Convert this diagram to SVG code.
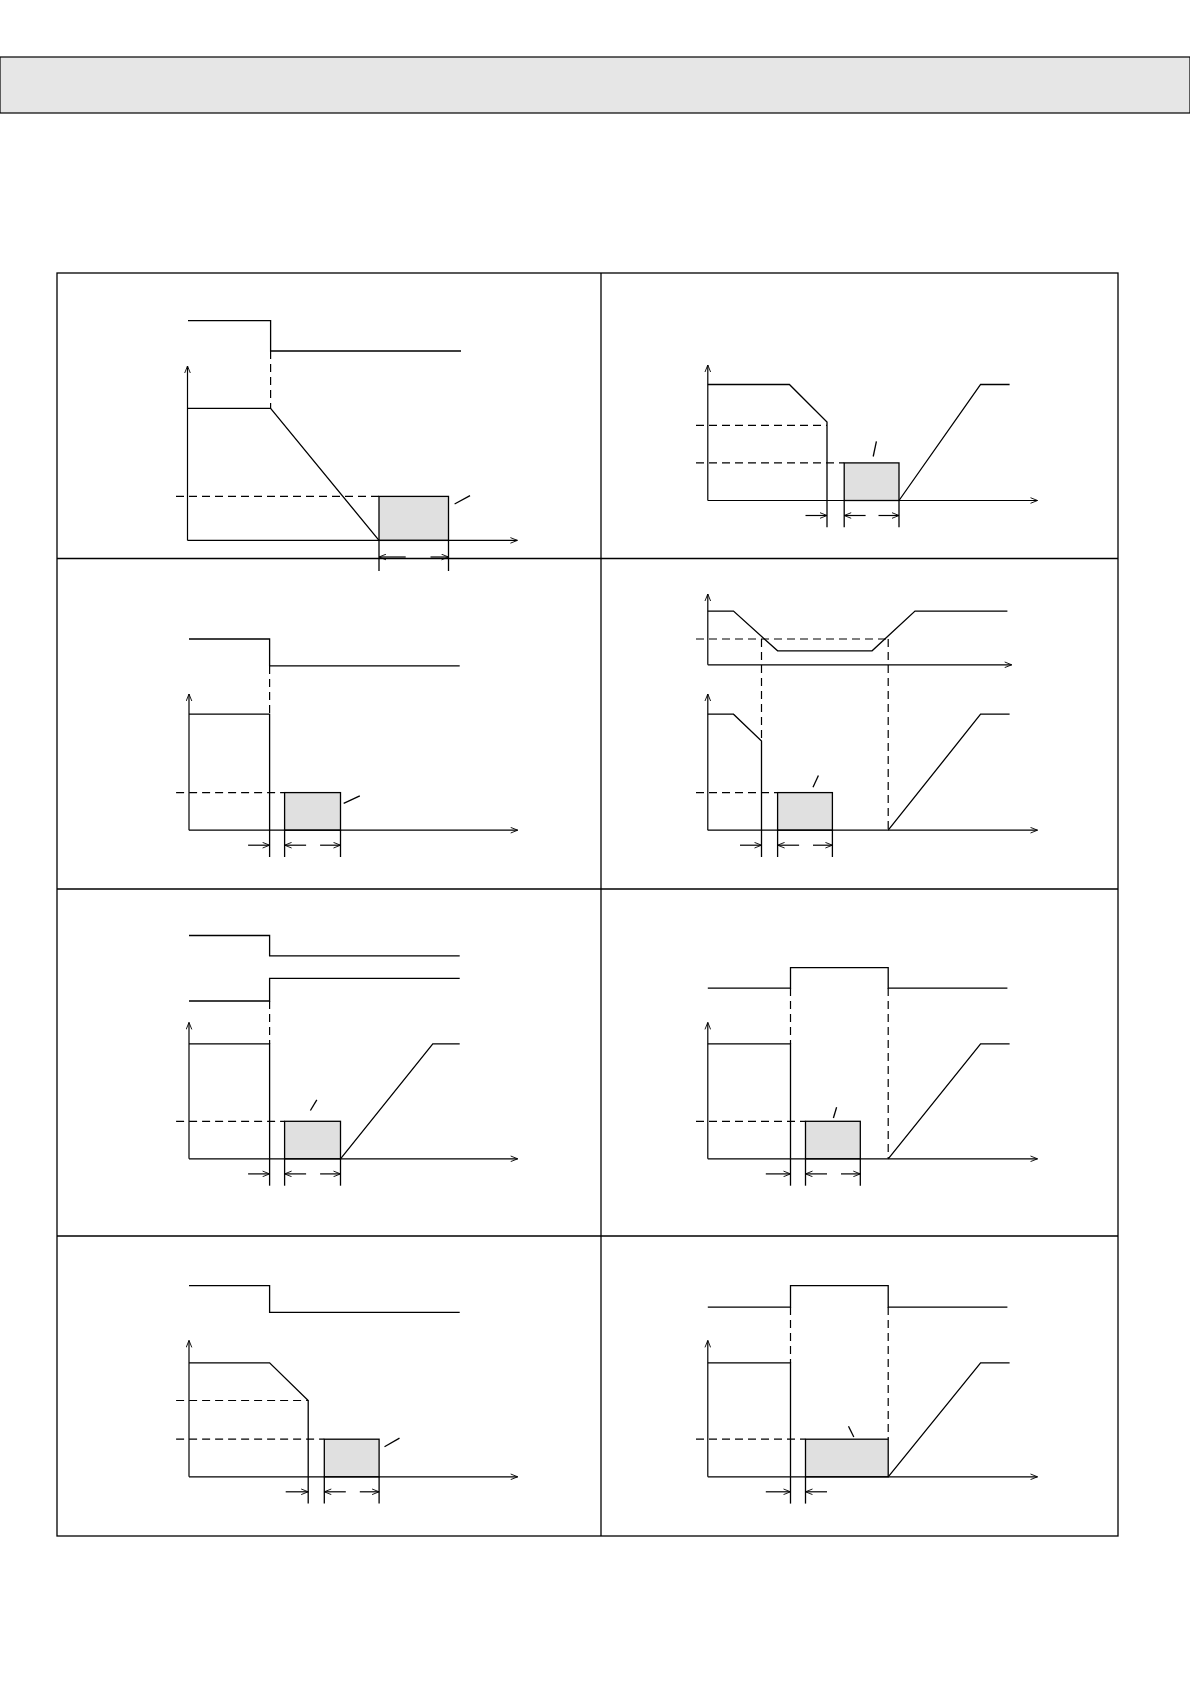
<svg xmlns="http://www.w3.org/2000/svg" width="1190" height="1684" viewBox="0 0 1190 1684">
<style>
.l{fill:none;stroke:#000;stroke-width:1.3}
.d{fill:none;stroke:#000;stroke-width:1.2;stroke-dasharray:8,5}
.g{fill:#e0e0e0;stroke:#000;stroke-width:1.3}
.a{fill:none;stroke:#000;stroke-width:1.2;marker-end:url(#ar)}
</style>
<defs><marker id="ar" viewBox="0 0 10 10" refX="10" refY="5" markerWidth="9" markerHeight="7" markerUnits="userSpaceOnUse" orient="auto"><path d="M0,1 L10,5 L0,9" fill="none" stroke="#000" stroke-width="1.3"/></marker></defs>
<rect x="0" y="57" width="1190" height="56" fill="#e6e6e6" stroke="#000" stroke-width="1.2"/>
<g id="frame" class="l">
<rect x="57" y="273" width="1061" height="1263"/>
<line x1="601" y1="273" x2="601" y2="1536"/>
<line x1="57" y1="558.5" x2="1118" y2="558.5"/>
<line x1="57" y1="889" x2="1118" y2="889"/>
<line x1="57" y1="1236" x2="1118" y2="1236"/>
</g>
<g id="p1">
<polyline class="l" points="188,320.7 270.6,320.7 270.6,351 461,351"/>
<line class="d" x1="270.6" y1="351" x2="270.6" y2="408.4"/>
<rect class="g" x="379" y="496.4" width="69.5" height="44"/>
<line class="a" x1="187.5" y1="540.4" x2="187.5" y2="366"/>
<line class="a" x1="187.5" y1="540.4" x2="517.4" y2="540.4"/>
<polyline class="l" points="187.5,408.4 270.6,408.4 379,540.4"/>
<line class="d" x1="176" y1="496.4" x2="379" y2="496.4"/>
<line class="l" x1="454.6" y1="504" x2="470" y2="495.6"/>
<line class="l" x1="379" y1="540" x2="379" y2="571"/>
<line class="l" x1="448.5" y1="540" x2="448.5" y2="571"/>
<line class="a" x1="405.7" y1="557" x2="379" y2="557"/>
<line class="a" x1="430.5" y1="557" x2="448.5" y2="557"/>
</g>
<g id="p2">
<rect class="g" x="844.2" y="462.9" width="54.8" height="37.6"/>
<line class="a" x1="707.8" y1="500.5" x2="707.8" y2="365"/>
<line class="a" x1="707.8" y1="500.5" x2="1037.5" y2="500.5"/>
<polyline class="l" points="707.8,384.5 789.4,384.5 827,422 827,500.5"/>
<polyline class="l" points="899,500.5 980.6,384.5 1009.6,384.5"/>
<line class="d" x1="696" y1="425.3" x2="827" y2="425.3"/>
<line class="d" x1="696" y1="462.9" x2="844.2" y2="462.9"/>
<line class="l" x1="873.2" y1="456.5" x2="876.4" y2="441.4"/>
<line class="l" x1="827" y1="500.5" x2="827" y2="527.3"/>
<line class="l" x1="844.2" y1="500.5" x2="844.2" y2="527.3"/>
<line class="l" x1="899" y1="500.5" x2="899" y2="527.3"/>
<line class="a" x1="805.5" y1="515.5" x2="827" y2="515.5"/>
<line class="a" x1="865.6" y1="515.5" x2="844.2" y2="515.5"/>
<line class="a" x1="878.5" y1="515.5" x2="899" y2="515.5"/>
</g>
<g id="p3">
<polyline class="l" points="189,639 269.6,639 269.6,665.9 459.7,665.9"/>
<line class="d" x1="269.6" y1="665.9" x2="269.6" y2="714.2"/>
<rect class="g" x="284.6" y="792.6" width="55.9" height="37.6"/>
<line class="a" x1="189" y1="830.2" x2="189" y2="694"/>
<line class="a" x1="189" y1="830.2" x2="517.7" y2="830.2"/>
<polyline class="l" points="189,714.2 269.6,714.2 269.6,830.2"/>
<line class="d" x1="176.1" y1="792.6" x2="284.6" y2="792.6"/>
<line class="l" x1="343.7" y1="803.4" x2="359.8" y2="795.8"/>
<line class="l" x1="269.6" y1="830" x2="269.6" y2="857"/>
<line class="l" x1="284.6" y1="830" x2="284.6" y2="857"/>
<line class="l" x1="340.5" y1="830" x2="340.5" y2="857"/>
<line class="a" x1="248.1" y1="845.2" x2="269.6" y2="845.2"/>
<line class="a" x1="306.1" y1="845.2" x2="284.6" y2="845.2"/>
<line class="a" x1="320.1" y1="845.2" x2="340.5" y2="845.2"/>
</g>
<g id="p4">
<line class="a" x1="707.8" y1="664.8" x2="707.8" y2="594"/>
<line class="a" x1="707.8" y1="664.8" x2="1011.7" y2="664.8"/>
<polyline class="l" points="707.8,611.1 733.5,611.1 777.6,650.8 872.1,650.8 915,611.1 1007.4,611.1"/>
<line class="d" x1="696" y1="639" x2="888.2" y2="639"/>
<line class="d" x1="761.5" y1="639" x2="761.5" y2="741.1"/>
<line class="d" x1="888.2" y1="639" x2="888.2" y2="830.2"/>
<rect class="g" x="777.6" y="792.6" width="54.8" height="37.6"/>
<line class="a" x1="707.8" y1="830.2" x2="707.8" y2="694"/>
<line class="a" x1="707.8" y1="830.2" x2="1037.5" y2="830.2"/>
<polyline class="l" points="707.8,714.2 733.5,714.2 761.5,741.1 761.5,830.2"/>
<polyline class="l" points="888.2,830.2 980.6,714.2 1009.6,714.2"/>
<line class="d" x1="696" y1="792.6" x2="777.6" y2="792.6"/>
<line class="l" x1="813" y1="787.2" x2="818.4" y2="775.4"/>
<line class="l" x1="761.5" y1="830" x2="761.5" y2="857"/>
<line class="l" x1="777.6" y1="830" x2="777.6" y2="857"/>
<line class="l" x1="832.4" y1="830" x2="832.4" y2="857"/>
<line class="a" x1="740" y1="845.2" x2="761.5" y2="845.2"/>
<line class="a" x1="799.1" y1="845.2" x2="777.6" y2="845.2"/>
<line class="a" x1="813" y1="845.2" x2="832.4" y2="845.2"/>
</g>
<g id="p5">
<polyline class="l" points="189,935.5 269.6,935.5 269.6,955.9 459.7,955.9"/>
<polyline class="l" points="189,1001 269.6,1001 269.6,978.4 459.7,978.4"/>
<line class="d" x1="269.6" y1="1001" x2="269.6" y2="1043.9"/>
<rect class="g" x="284.6" y="1121.3" width="55.9" height="37.5"/>
<line class="a" x1="189" y1="1158.8" x2="189" y2="1022.4"/>
<line class="a" x1="189" y1="1158.8" x2="517.7" y2="1158.8"/>
<polyline class="l" points="189,1043.9 269.6,1043.9 269.6,1158.8"/>
<polyline class="l" points="340.5,1158.8 432.8,1043.9 459.7,1043.9"/>
<line class="d" x1="176.1" y1="1121.3" x2="284.6" y2="1121.3"/>
<line class="l" x1="310.4" y1="1110.5" x2="316.8" y2="1099.8"/>
<line class="l" x1="269.6" y1="1158.8" x2="269.6" y2="1185.7"/>
<line class="l" x1="284.6" y1="1158.8" x2="284.6" y2="1185.7"/>
<line class="l" x1="340.5" y1="1158.8" x2="340.5" y2="1185.7"/>
<line class="a" x1="248.1" y1="1173.9" x2="269.6" y2="1173.9"/>
<line class="a" x1="306.1" y1="1173.9" x2="284.6" y2="1173.9"/>
<line class="a" x1="320.1" y1="1173.9" x2="340.5" y2="1173.9"/>
</g>
<g id="p6">
<polyline class="l" points="707.8,988.1 790.5,988.1 790.5,967.7 888.2,967.7 888.2,988.1 1007.4,988.1"/>
<line class="d" x1="790.5" y1="988.1" x2="790.5" y2="1043.9"/>
<line class="d" x1="888.2" y1="988.1" x2="888.2" y2="1158.8"/>
<rect class="g" x="805.5" y="1121.3" width="54.8" height="37.5"/>
<line class="a" x1="707.8" y1="1158.8" x2="707.8" y2="1022.4"/>
<line class="a" x1="707.8" y1="1158.8" x2="1037.5" y2="1158.8"/>
<polyline class="l" points="707.8,1043.9 790.5,1043.9 790.5,1158.8"/>
<polyline class="l" points="888.2,1158.8 980.6,1043.9 1009.6,1043.9"/>
<line class="d" x1="696" y1="1121.3" x2="805.5" y2="1121.3"/>
<line class="l" x1="833.4" y1="1118" x2="836.6" y2="1107.3"/>
<line class="l" x1="790.5" y1="1158.8" x2="790.5" y2="1185.7"/>
<line class="l" x1="805.5" y1="1158.8" x2="805.5" y2="1185.7"/>
<line class="l" x1="860.3" y1="1158.8" x2="860.3" y2="1185.7"/>
<line class="a" x1="765.8" y1="1173.9" x2="790.5" y2="1173.9"/>
<line class="a" x1="827" y1="1173.9" x2="805.5" y2="1173.9"/>
<line class="a" x1="841" y1="1173.9" x2="860.3" y2="1173.9"/>
</g>
<g id="p7">
<polyline class="l" points="189,1285.6 269.6,1285.6 269.6,1312.4 459.7,1312.4"/>
<rect class="g" x="324.3" y="1439.2" width="54.8" height="37.6"/>
<line class="a" x1="189" y1="1476.8" x2="189" y2="1340.4"/>
<line class="a" x1="189" y1="1476.8" x2="517.7" y2="1476.8"/>
<polyline class="l" points="189,1362.9 269.6,1362.9 308.2,1400.5 308.2,1476.8"/>
<line class="d" x1="176.1" y1="1400.5" x2="308.2" y2="1400.5"/>
<line class="d" x1="176.1" y1="1439.2" x2="324.3" y2="1439.2"/>
<line class="l" x1="384.5" y1="1446.7" x2="399.5" y2="1438.1"/>
<line class="l" x1="308.2" y1="1476.8" x2="308.2" y2="1503.6"/>
<line class="l" x1="324.3" y1="1476.8" x2="324.3" y2="1503.6"/>
<line class="l" x1="379.1" y1="1476.8" x2="379.1" y2="1503.6"/>
<line class="a" x1="285.7" y1="1491.8" x2="308.2" y2="1491.8"/>
<line class="a" x1="345.8" y1="1491.8" x2="324.3" y2="1491.8"/>
<line class="a" x1="359.8" y1="1491.8" x2="379.1" y2="1491.8"/>
</g>
<g id="p8">
<polyline class="l" points="707.8,1307.1 790.5,1307.1 790.5,1285.6 888.2,1285.6 888.2,1307.1 1007.4,1307.1"/>
<line class="d" x1="790.5" y1="1307.1" x2="790.5" y2="1362.9"/>
<line class="d" x1="888.2" y1="1307.1" x2="888.2" y2="1439.2"/>
<rect class="g" x="805.5" y="1439.2" width="82.7" height="37.6"/>
<line class="a" x1="707.8" y1="1476.8" x2="707.8" y2="1340.4"/>
<line class="a" x1="707.8" y1="1476.8" x2="1037.5" y2="1476.8"/>
<polyline class="l" points="707.8,1362.9 790.5,1362.9 790.5,1476.8"/>
<polyline class="l" points="888.2,1476.8 980.6,1362.9 1009.6,1362.9"/>
<line class="d" x1="696" y1="1439.2" x2="805.5" y2="1439.2"/>
<line class="l" x1="848.5" y1="1426.3" x2="853.8" y2="1437"/>
<line class="l" x1="790.5" y1="1476.8" x2="790.5" y2="1503.6"/>
<line class="l" x1="805.5" y1="1476.8" x2="805.5" y2="1503.6"/>
<line class="a" x1="765.8" y1="1491.8" x2="790.5" y2="1491.8"/>
<line class="a" x1="827" y1="1491.8" x2="805.5" y2="1491.8"/>
</g>
</svg>
